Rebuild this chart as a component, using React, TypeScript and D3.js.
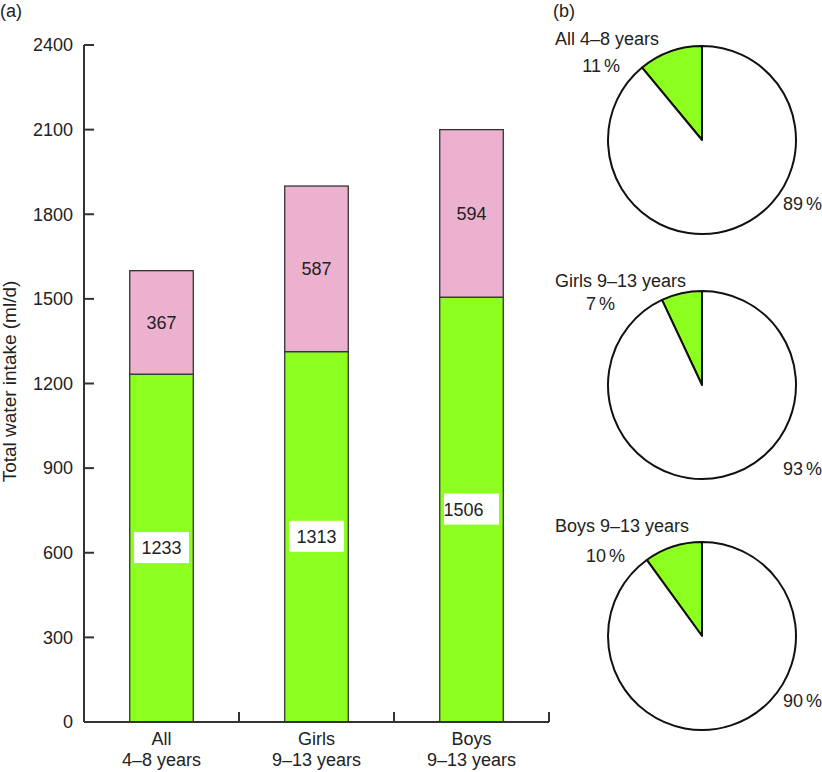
import React from "react";
import * as d3 from "d3";

const categories = ["All", "Girls", "Boys"];
const categorySub = ["4–8 years", "9–13 years", "9–13 years"];
const drinkWater = [1233, 1313, 1506];
const foodWater = [367, 587, 594];
const yTicks = [0, 300, 600, 900, 1200, 1500, 1800, 2100, 2400];

const pieTitles = ["All 4–8 years", "Girls 9–13 years", "Boys 9–13 years"];
const pieSmall = [11, 7, 10];
const pieLarge = [89, 93, 90];

// layout (not data)
const pieCenterY = [140, 385, 636];
const pieTitleDy = [-95, -98, -104];
const pieSmallDy = [-68, -75, -74];
const pieSmallDx = [-82, -87, -77];
const pieLargeDy = [70, 90, 71];
const labelTextDx = [0, 0, -8];

const W = 822;
const H = 772;
const GREEN = "#8cff1f";
const PINK = "#ebb1cf";
const INK = "#222";
const FONT = "'Liberation Sans', Arial, Helvetica, sans-serif";

export default function App() {
  const x = d3.scaleBand<string>().domain(categories).range([84, 549]).padding(0);
  const y = d3.scaleLinear().domain([0, 2400]).range([722, 45]);
  const barW = x.bandwidth() * 0.41;
  const pieX = 702;
  const r = 94;
  const arc = d3.arc<d3.PieArcDatum<number>>().innerRadius(0).outerRadius(r);

  return (
    <svg
      width={W}
      height={H}
      style={{ position: "absolute", left: 0, top: 0, background: "#fff" }}
      fontFamily={FONT}
    >
      <rect width={W} height={H} fill="#fff" />
      <text x={0} y={17} fontSize={18} fill={INK}>(a)</text>

      {/* y axis */}
      <line x1={84} x2={84} y1={y(2400)} y2={y(0)} stroke="#333" strokeWidth={2} />
      {yTicks.map((t) => (
        <g key={t}>
          <line x1={84} x2={94} y1={y(t)} y2={y(t)} stroke="#333" strokeWidth={2} />
          <text x={73} y={y(t)} dy="0.35em" textAnchor="end" fontSize={18} fill={INK}>
            {t}
          </text>
        </g>
      ))}
      <text
        transform={`translate(16,${(y(0) + y(2400)) / 2 - 2}) rotate(-90)`}
        textAnchor="middle"
        fontSize={19}
        fill={INK}
      >
        Total water intake (ml/d)
      </text>

      {/* bars */}
      {categories.map((c, i) => {
        const cx = (x(c) as number) + x.bandwidth() / 2;
        const g = drinkWater[i];
        const p = foodWater[i];
        return (
          <g key={c}>
            <rect x={cx - barW / 2} y={y(g)} width={barW} height={y(0) - y(g)} fill={GREEN} stroke="#333" strokeWidth={1.3} />
            <rect x={cx - barW / 2} y={y(g + p)} width={barW} height={y(g) - y(g + p)} fill={PINK} stroke="#333" strokeWidth={1.3} />
            <rect x={cx - 27.5} y={y(g / 2) - 16} width={55} height={31} fill="#fff" />
            <text x={cx + labelTextDx[i]} y={y(g / 2)} dy="0.35em" textAnchor="middle" fontSize={18} fill={INK}>
              {g}
            </text>
            <text x={cx} y={y(g + p / 2)} dy="0.35em" textAnchor="middle" fontSize={18} fill={INK}>
              {p}
            </text>
          </g>
        );
      })}

      {/* x axis */}
      <line x1={84} x2={549} y1={y(0)} y2={y(0)} stroke="#333" strokeWidth={2} />
      {categories.map((c) => {
        const xr = (x(c) as number) + x.bandwidth();
        return <line key={c} x1={xr} x2={xr} y1={y(0)} y2={y(0) - 10} stroke="#333" strokeWidth={2} />;
      })}
      {categories.map((c, i) => {
        const cx = (x(c) as number) + x.bandwidth() / 2;
        return (
          <g key={c}>
            <text x={cx} y={745} textAnchor="middle" fontSize={18} fill={INK}>{c}</text>
            <text x={cx} y={766} textAnchor="middle" fontSize={18} fill={INK}>{categorySub[i]}</text>
          </g>
        );
      })}

      {/* pies */}
      <text x={553} y={17} fontSize={18} fill={INK}>(b)</text>
      {pieTitles.map((t, i) => {
        const cy = pieCenterY[i];
        const small = pieSmall[i];
        const large = pieLarge[i];
        const start = (-small / (small + large)) * 2 * Math.PI;
        const pie = d3
          .pie<number>()
          .sort(null)
          .startAngle(start)
          .endAngle(start + 2 * Math.PI);
        const arcs = pie([small, large]);
        return (
          <g key={t}>
            <g transform={`translate(${pieX},${cy})`}>
              {arcs.map((a, j) => (
                <path key={j} d={arc(a) || ""} fill={j === 0 ? GREEN : "#fff"} stroke="#111" strokeWidth={2} strokeLinejoin="round" />
              ))}
            </g>
            <text x={555} y={cy + pieTitleDy[i]} fontSize={18} fill={INK}>{t}</text>
            <text x={pieX + pieSmallDx[i]} y={cy + pieSmallDy[i]} textAnchor="end" fontSize={18} fill={INK}>
              {small}
              <tspan dx={3}>%</tspan>
            </text>
            <text x={pieX + 81} y={cy + pieLargeDy[i]} fontSize={18} fill={INK}>
              {large}
              <tspan dx={3}>%</tspan>
            </text>
          </g>
        );
      })}
    </svg>
  );
}
